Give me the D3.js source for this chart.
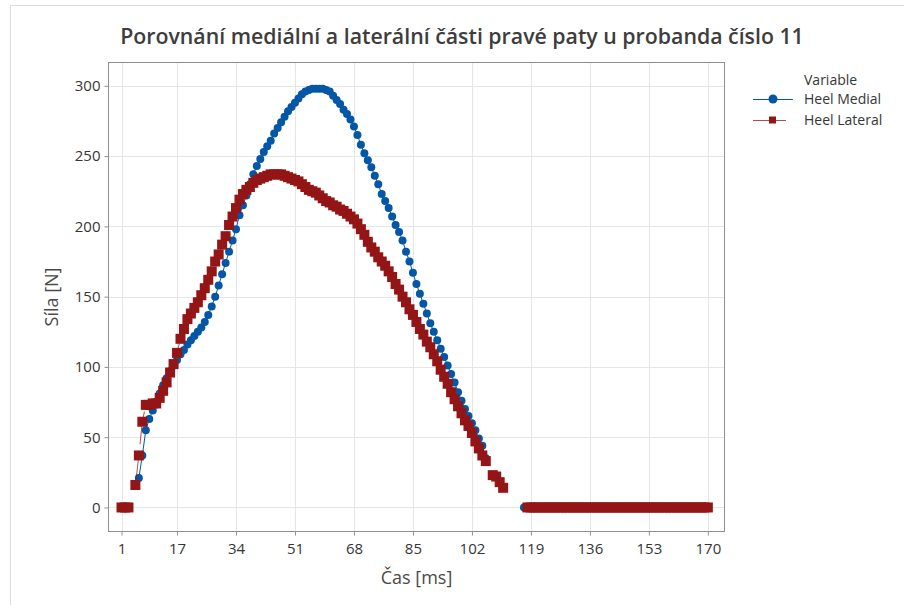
<!DOCTYPE html>
<html>
<head>
<meta charset="utf-8">
<script src="https://cdn.jsdelivr.net/npm/d3@7"></script>
<style>
  html, body { margin: 0; padding: 0; background: #fff; }
  svg { display: block; font-family: "Open Sans", "Noto Sans", sans-serif; }
</style>
</head>
<body>
<svg id="chart" width="904" height="605"></svg>
<script>
// Heel force samples, one per millisecond (null = no reading)
const timeMs = d3.range(1, 171);

const heelMedial = [
  0, null, null, null, null, 21, 37, 55, 63, 69,
  75, 81, 87, 92, 97, 101, 105, 109, 112, 116,
  119, 122, 125, 128, 132, 137, 143, 150, 158, 166,
  174, 182, 190, 198, 208, 215, 222, 230, 237, 243,
  248, 253, 257, 261, 266, 270, 274, 278, 282, 285,
  288, 291, 294, 296, 297, 298, 298, 298, 298, 297,
  296, 293, 290, 287, 283, 280, 276, 271, 265, 258,
  252, 247, 242, 236, 230, 223, 218, 213, 207, 201,
  196, 190, 182, 175, 167, 159, 152, 145, 138, 131,
  125, 119, 113, 107, 101, 95, 89, 82, 76, 70,
  65, 60, 55, 49, 44, 35, null, null, null, null,
  null, null, null, null, null, null, 0, 0, 0, 0,
  0, 0, 0, 0, 0, 0, 0, 0, 0, 0,
  0, 0, 0, 0, 0, 0, 0, 0, 0, 0,
  0, 0, 0, 0, 0, 0, 0, 0, 0, 0,
  0, 0, 0, 0, 0, 0, 0, 0, 0, 0,
  0, 0, 0, 0, 0, 0, 0, 0, 0, 0
];

const heelLateral = [
  0, 0, 0, null, 16, 37, 61, 73, 73, 74,
  74, 78, 83, 89, 96, 102, 110, 120, 127, 134,
  138, 142, 146, 151, 156, 162, 168, 175, 180, 187,
  193, 201, 207, 213, 219, 223, 226, 228, 231, 233,
  234, 235, 236, 237, 237, 237, 237, 236, 235, 234,
  233, 232, 230, 228, 226, 225, 224, 222, 220, 218,
  217, 215, 214, 212, 211, 209, 207, 205, 202, 198,
  194, 189, 185, 182, 178, 175, 172, 168, 164, 159,
  155, 150, 146, 141, 137, 132, 127, 123, 118, 114,
  109, 104, 98, 93, 88, 82, 77, 72, 67, 62,
  58, 53, 47, 42, 37, 33, null, 23, 22, 18,
  14, null, null, null, null, null, null, 0, 0, 0,
  0, 0, 0, 0, 0, 0, 0, 0, 0, 0,
  0, 0, 0, 0, 0, 0, 0, 0, 0, 0,
  0, 0, 0, 0, 0, 0, 0, 0, 0, 0,
  0, 0, 0, 0, 0, 0, 0, 0, 0, 0,
  0, 0, 0, 0, 0, 0, 0, 0, 0, 0
];

const xTickValues = [1, 17, 34, 51, 68, 85, 102, 119, 136, 153, 170];
const yTickValues = [0, 50, 100, 150, 200, 250, 300];

const seriesNames = ["Heel Medial", "Heel Lateral"];
const titleText = "Porovnání mediální a laterální části pravé paty u probanda číslo 11";
const xTitle = "Čas [ms]";
const yTitle = "Síla [N]";
const legendTitle = "Variable";

// ---- layout ----
const svg = d3.select("#chart");
const W = 904, H = 605;
const plot = { left: 108.5, right: 724.5, top: 62.5, bottom: 531.5 };

const BLUE = "#0457a6";
const RED = "#931515";
const TEXT = "#363636";

const x = d3.scaleLinear()
  .domain([-2.75, 174.8])
  .range([plot.left, plot.right]);
const y = d3.scaleLinear()
  .domain([-17.1, 316.6])
  .range([plot.bottom, plot.top]);

// background and outer frame
svg.append("rect").attr("width", W).attr("height", H).attr("fill", "#fff");
svg.append("rect")
  .attr("x", 10.5).attr("y", 5.5)
  .attr("width", W).attr("height", H)
  .attr("fill", "none").attr("stroke", "#dedede");

// gridlines
const grid = svg.append("g").attr("stroke", "#e6e6e6").attr("stroke-width", 1);
grid.selectAll("line.v").data(xTickValues).join("line")
  .attr("x1", d => Math.round(x(d)) + 0.5).attr("x2", d => Math.round(x(d)) + 0.5)
  .attr("y1", plot.top).attr("y2", plot.bottom);
grid.selectAll("line.h").data(yTickValues).join("line")
  .attr("y1", d => Math.round(y(d)) + 0.5).attr("y2", d => Math.round(y(d)) + 0.5)
  .attr("x1", plot.left).attr("x2", plot.right);

// axes
const xAxis = svg.append("g")
  .attr("transform", `translate(0,${plot.bottom})`)
  .call(d3.axisBottom(x).tickValues(xTickValues).tickSize(4).tickPadding(8));
const yAxis = svg.append("g")
  .attr("transform", `translate(${plot.left},0)`)
  .call(d3.axisLeft(y).tickValues(yTickValues).tickSize(4).tickPadding(4));
[xAxis, yAxis].forEach(g => {
  g.select(".domain").remove();
  g.selectAll(".tick line").attr("stroke", "#8f8f8f");
  g.selectAll(".tick text")
    .attr("fill", TEXT)
    .style("font-size", "15px")
    .style("font-family", "\"Open Sans\", sans-serif");
});

// plot frame
svg.append("rect")
  .attr("x", plot.left).attr("y", plot.top)
  .attr("width", plot.right - plot.left).attr("height", plot.bottom - plot.top)
  .attr("fill", "none").attr("stroke", "#8f8f8f");

// series
const medialPts = timeMs.map((t, i) => ({ t, v: heelMedial[i] }));
const lateralPts = timeMs.map((t, i) => ({ t, v: heelLateral[i] }));

const line = d3.line()
  .defined(d => d.v !== null)
  .x(d => x(d.t))
  .y(d => y(d.v));

svg.append("path")
  .datum(medialPts)
  .attr("fill", "none").attr("stroke", BLUE).attr("stroke-width", 1)
  .attr("d", line);

svg.append("g").attr("fill", BLUE)
  .selectAll("circle")
  .data(medialPts.filter(d => d.v !== null))
  .join("circle")
  .attr("cx", d => x(d.t)).attr("cy", d => y(d.v)).attr("r", 4);

svg.append("path")
  .datum(lateralPts)
  .attr("fill", "none").attr("stroke", RED).attr("stroke-width", 1)
  .attr("stroke-opacity", 0.75)
  .attr("stroke-dasharray", "33,8")
  .attr("d", line);

const sq = 10;
svg.append("g").attr("fill", RED)
  .selectAll("rect")
  .data(lateralPts.filter(d => d.v !== null))
  .join("rect")
  .attr("x", d => x(d.t) - sq / 2).attr("y", d => y(d.v) - sq / 2)
  .attr("width", sq).attr("height", sq);

// title, fitted to its span
const title = svg.append("text")
  .attr("x", 462).attr("y", 44)
  .attr("text-anchor", "middle")
  .attr("fill", "#3d3d3d")
  .style("font-size", "20px")
  .style("font-weight", 600)
  .text(titleText);
const tw = title.node().getComputedTextLength();
title.style("font-size", (20 * 684 / tw).toFixed(2) + "px");

// axis titles
svg.append("text")
  .attr("x", (plot.left + plot.right) / 2).attr("y", 584)
  .attr("text-anchor", "middle")
  .attr("fill", "#4a4a4a")
  .style("font-size", "18px")
  .text(xTitle);
svg.append("text")
  .attr("transform", `translate(58,${(plot.top + plot.bottom) / 2}) rotate(-90)`)
  .attr("text-anchor", "middle")
  .attr("fill", "#4a4a4a")
  .style("font-size", "18px")
  .text(yTitle);

// legend
const lg = svg.append("g");
lg.append("text")
  .attr("x", 804).attr("y", 85)
  .attr("fill", TEXT).style("font-size", "14px")
  .text(legendTitle);

const legendRows = [
  { name: seriesNames[0], color: BLUE, shape: "circle", cy: 99 },
  { name: seriesNames[1], color: RED, shape: "square", cy: 120 }
];
legendRows.forEach(r => {
  const l = lg.append("line")
    .attr("x1", 753).attr("x2", 793)
    .attr("y1", r.cy + 0.5).attr("y2", r.cy + 0.5)
    .attr("stroke", r.color).attr("stroke-width", 1);
  if (r.shape === "circle") {
    lg.append("circle").attr("cx", 773).attr("cy", r.cy).attr("r", 4.5).attr("fill", r.color);
  } else {
    l.attr("stroke-dasharray", "33,8").attr("stroke-opacity", 0.75);
    lg.append("rect").attr("x", 769).attr("y", r.cy - 3.5).attr("width", 7).attr("height", 7).attr("fill", r.color);
  }
  lg.append("text")
    .attr("x", 804).attr("y", r.cy + 5)
    .attr("fill", TEXT).style("font-size", "14px")
    .text(r.name);
});
</script>
</body>
</html>
